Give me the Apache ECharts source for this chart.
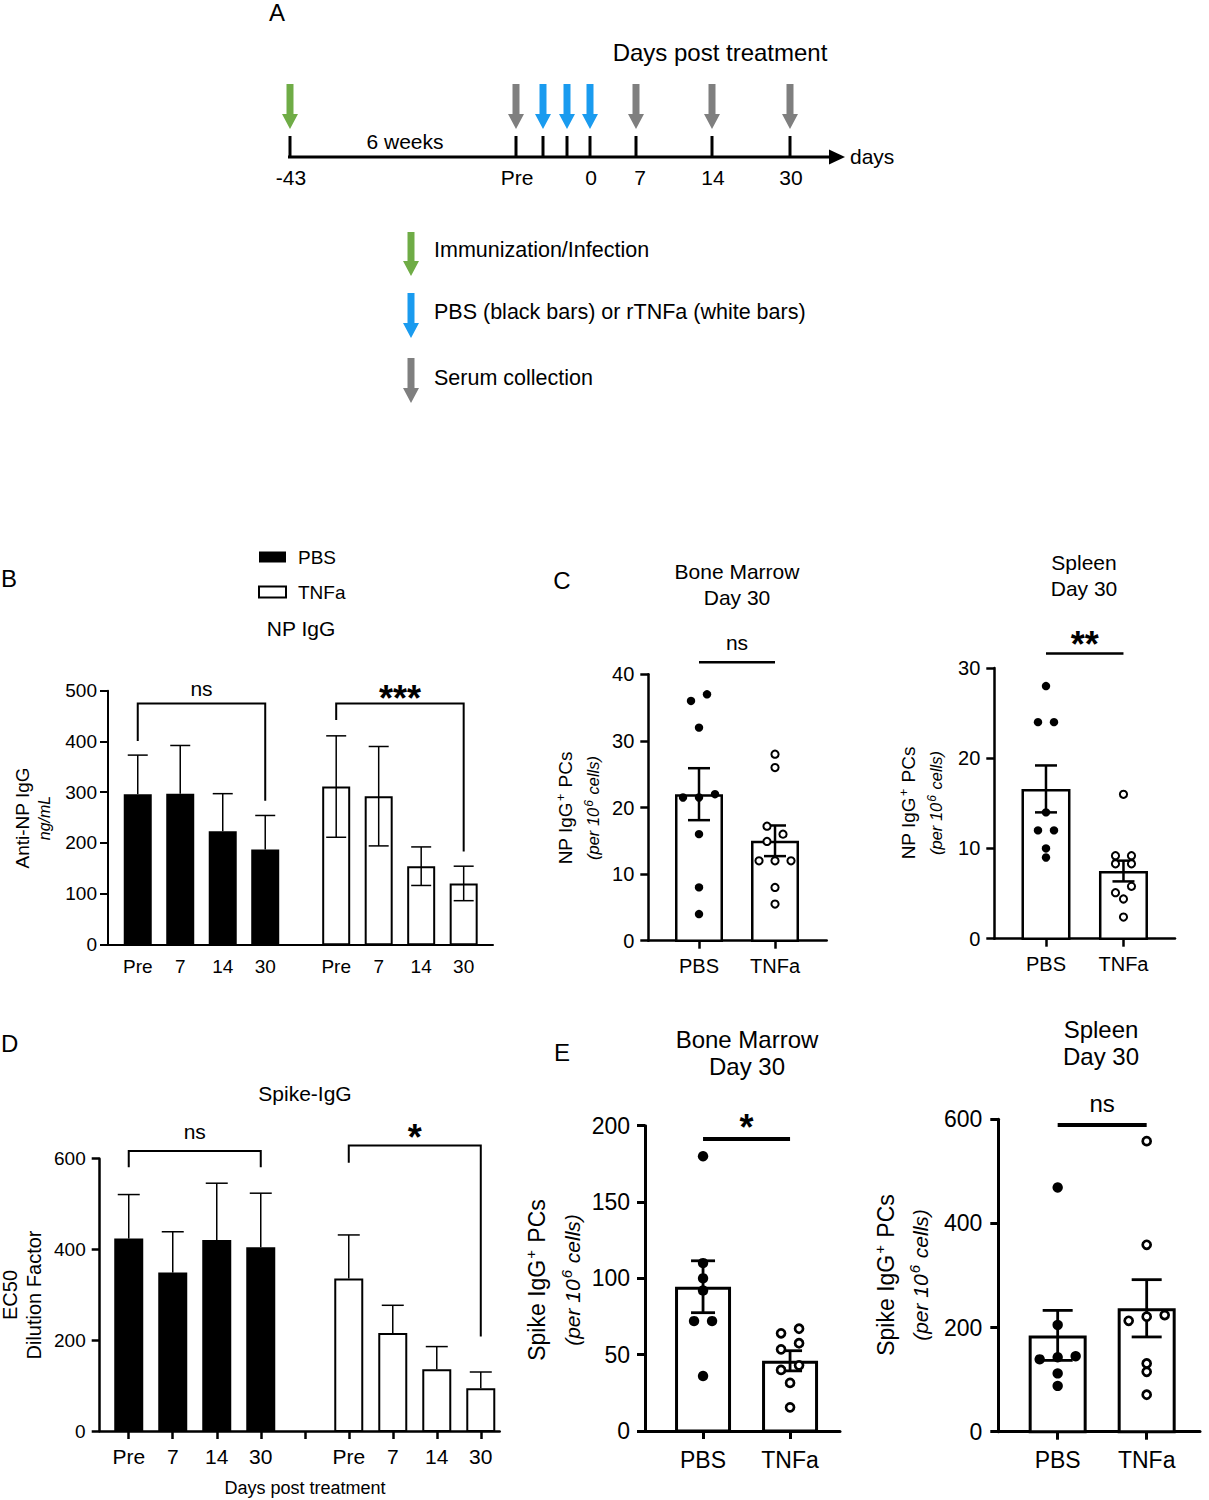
<!DOCTYPE html>
<html><head><meta charset="utf-8">
<script src="https://cdn.jsdelivr.net/npm/echarts@6/dist/echarts.min.js"></script>
<style>html,body{margin:0;padding:0;background:#fff}#c{width:1209px;height:1500px}</style>
</head><body><div id="c"></div><script>
const FONT = '"Liberation Sans", Arial, Helvetica, sans-serif';

// ---------------- DATA ----------------
// Panel A (schematic)
const timelineLabels = ['-43', 'Pre', '', '', '0', '7', '14', '30'];
const timelineArrowKinds = ['immun', 'serum', 'treat', 'treat', 'treat', 'serum', 'serum', 'serum'];
const arrowLegendKinds = ['immun', 'treat', 'serum'];
const arrowLegendTexts = ['Immunization/Infection', 'PBS (black bars) or rTNFa (white bars)', 'Serum collection'];

// Panel B: NP IgG (ng/mL), mean and SEM
const bDays = ['Pre', '7', '14', '30'];
const bPbsMean = [296, 297, 223, 187];
const bPbsSem = [77, 95, 74, 67];
const bTnfMean = [311, 292, 154, 120];
const bTnfSem = [100, 98, 38, 34];
const bSig = ['ns', '***'];

// Panel C: NP IgG+ PCs per 10^6 cells
const groups = ['PBS', 'TNFa'];
const cBmPbs = [36, 37, 32, 21.5, 22, 21.5, 16, 8, 4];
const cBmTnf = [28, 26, 17.2, 16, 14.9, 12, 12, 12, 8, 5.5];
const cBmMean = [22.0, 15.0];
const cBmSem = [3.9, 2.3];
const cSpPbs = [28, 24, 24, 14, 12, 12, 10, 9];
const cSpTnf = [16, 9.2, 9.2, 8.3, 8.3, 5.8, 5.1, 4.4, 2.4];
const cSpMean = [16.6, 7.5];
const cSpSem = [2.6, 1.15];
const cSig = ['ns', '**'];

// Panel D: Spike IgG EC50 dilution factor
const dPbsMean = [424, 349, 421, 405];
const dPbsSem = [97, 90, 125, 119];
const dTnfMean = [336, 216, 136, 94];
const dTnfSem = [96, 61, 50, 36];
const dSig = ['ns', '*'];

// Panel E: Spike IgG+ PCs per 10^6 cells
const eBmPbs = [180, 110, 100, 92, 72, 72, 36];
const eBmTnf = [67, 64, 57.5, 53.5, 43, 40, 31.5, 15.5];
const eBmMean = [94.5, 46];
const eBmSem = [17, 6.6];
const eSpPbs = [469, 205, 145, 143, 139, 112, 88];
const eSpTnf = [558, 359, 224, 221, 213, 131, 115, 71];
const eSpMean = [185, 237];
const eSpSem = [48, 55];
const eSig = ['*', 'ns'];

// ---------------- HELPERS ----------------
const grids = [], xAxes = [], yAxes = [], series = [], graphics = [];

function lookup(pos, labels, v) {
  for (let k = 0; k < pos.length; k++) if (Math.abs(pos[k] - v) < 1e-3) return labels[k];
  return '';
}

function addPanel(cfg) {
  const i = grids.length;
  grids.push({ left: cfg.left, top: cfg.top, width: cfg.width, height: cfg.height, containLabel: false, outerBoundsMode: 'none' });
  xAxes.push({
    gridIndex: i, type: 'value', min: 0, max: cfg.xMax, splitLine: { show: false },
    axisLine: { show: true, onZero: false, lineStyle: { color: '#000', width: cfg.lw } },
    axisTick: { show: !!cfg.xTicks, customValues: cfg.xTicks || [], length: 8, lineStyle: { color: '#000', width: cfg.lw } },
    axisLabel: { customValues: cfg.xLabelPos, formatter: v => lookup(cfg.xLabelPos, cfg.xLabels, v),
      fontSize: cfg.xFont, fontFamily: FONT, color: '#000', margin: cfg.xMargin }
  });
  yAxes.push({
    gridIndex: i, type: 'value', min: 0, max: cfg.yMax, interval: cfg.yStep, splitLine: { show: false },
    axisLine: { show: true, onZero: false, lineStyle: { color: '#000', width: cfg.lw } },
    axisTick: { show: true, length: 8, lineStyle: { color: '#000', width: cfg.lw } },
    axisLabel: { fontSize: cfg.yFont, fontFamily: FONT, color: '#000', margin: cfg.yMargin, showMinLabel: true, showMaxLabel: true }
  });
  return i;
}

function bars(name, gi, pos, vals, w, fill, lw) {
  series.push({
    type: 'custom', name, xAxisIndex: gi, yAxisIndex: gi, z: 2,
    itemStyle: { color: fill, borderColor: '#000' },
    data: pos.map((p, k) => [p, vals[k]]),
    renderItem: (params, api) => {
      const t = api.coord([api.value(0), api.value(1)]);
      const b = api.coord([api.value(0), 0]);
      const h = lw ? lw / 2 : 0;
      return { type: 'rect', shape: { x: t[0] - w / 2 + h, y: t[1] + h, width: w - 2 * h, height: Math.max(0, b[1] - t[1] - h) },
        style: lw ? { fill, stroke: '#000', lineWidth: lw } : { fill } };
    }
  });
}

function errs(name, gi, pos, mean, sem, capW, lw, both) {
  series.push({
    type: 'custom', name, xAxisIndex: gi, yAxisIndex: gi, z: 3,
    data: pos.map((p, k) => [p, mean[k], sem[k]]),
    renderItem: (params, api) => {
      const x = api.value(0), m = api.value(1), s = api.value(2);
      const hi = api.coord([x, m + s]);
      const lo = api.coord([x, both ? m - s : m]);
      const st = { stroke: '#000', lineWidth: lw };
      const ch = [
        { type: 'line', shape: { x1: hi[0], y1: hi[1], x2: lo[0], y2: lo[1] }, style: st },
        { type: 'line', shape: { x1: hi[0] - capW / 2, y1: hi[1], x2: hi[0] + capW / 2, y2: hi[1] }, style: st }
      ];
      if (both) ch.push({ type: 'line', shape: { x1: lo[0] - capW / 2, y1: lo[1], x2: lo[0] + capW / 2, y2: lo[1] }, style: st });
      return { type: 'group', children: ch };
    }
  });
}

// horizontal spreading of points that would overlap (pixel based)
function jitter(vals, ppu, step, rowTol, chainTol) {
  const idx = vals.map((v, i) => i).sort((a, b) => vals[b] - vals[a]);
  const rows = [];
  idx.forEach(i => {
    const r = rows[rows.length - 1];
    if (r && (vals[r[0]] - vals[i]) * ppu < rowTol) r.push(i); else rows.push([i]);
  });
  const off = new Array(vals.length).fill(0);
  rows.forEach(r => {
    r.slice().sort((a, b) => vals[a] - vals[b]).forEach((i, k) => { off[i] = (k - (r.length - 1) / 2) * step; });
  });
  let k = 0;
  while (k < rows.length) {
    if (rows[k].length !== 1) { k++; continue; }
    let j = k;
    while (j + 1 < rows.length && rows[j + 1].length === 1 && (vals[rows[j][0]] - vals[rows[j + 1][0]]) * ppu < chainTol) j++;
    if (j > k) for (let m = k; m <= j; m++) off[rows[m][0]] = ((m - k) % 2 === 0 ? -1 : 1) * step / 2;
    k = j + 1;
  }
  return off;
}

function dots(name, gi, x, vals, cfg, filled) {
  const ppu = cfg.height / cfg.yMax;
  const off = jitter(vals, ppu, cfg.step, cfg.rowTol, cfg.chainTol);
  series.push({
    type: 'custom', name, xAxisIndex: gi, yAxisIndex: gi, z: 4,
    data: vals.map((v, k) => [x, v, off[k]]),
    renderItem: (params, api) => {
      const c = api.coord([api.value(0), api.value(1)]);
      return { type: 'circle', shape: { cx: c[0] + api.value(2), cy: c[1], r: filled ? cfg.rFill : cfg.rOpen },
        style: filled ? { fill: '#000' } : { fill: '#fff', stroke: '#000', lineWidth: cfg.dotLw } };
    }
  });
}

// significance bracket / line: [x1, x2, top, leftEnd, rightEnd]
function sig(gi, x1, x2, top, l, r, label, lw, fs, dyText) {
  series.push({
    type: 'custom', name: 'sig', xAxisIndex: gi, yAxisIndex: gi, z: 5, silent: true,
    data: [[x1, x2, top, l, r]],
    renderItem: (params, api) => {
      const a = api.coord([api.value(0), api.value(3)]);
      const b = api.coord([api.value(0), api.value(2)]);
      const c = api.coord([api.value(1), api.value(2)]);
      const d = api.coord([api.value(1), api.value(4)]);
      const star = label.indexOf('*') >= 0;
      return { type: 'group', children: [
        { type: 'polyline', shape: { points: [a, b, c, d] }, style: { stroke: '#000', lineWidth: lw, fill: null } },
        { type: 'text', x: (b[0] + c[0]) / 2, y: b[1] - dyText,
          style: { text: label, fontSize: fs, fontFamily: FONT, fontWeight: star ? 'bold' : 'normal', fill: '#000',
            align: 'center', verticalAlign: 'middle', textAlign: 'center', textVerticalAlign: 'middle' } }
      ] };
    }
  });
}

function txt(t, x, y, fs, opts) {
  opts = opts || {};
  graphics.push({ type: 'text', x, y, rotation: opts.rot || 0, silent: true,
    style: { text: t, fontSize: fs, fontFamily: FONT, fontStyle: opts.italic ? 'italic' : 'normal', fontWeight: opts.bold ? 'bold' : 'normal',
      fill: '#000', align: opts.align || 'center', verticalAlign: 'middle', textAlign: opts.align || 'center', textVerticalAlign: 'middle' } });
}

// rotated axis title with a superscript part: parts = [before, sup, after]
function supTxt(parts, x, y, fs, supFs, italic) {
  const fst = italic ? 'italic' : 'normal';
  graphics.push({ type: 'text', x, y, rotation: Math.PI / 2, silent: true,
    style: { text: '{n|' + parts[0] + '}{s|' + parts[1] + '}{n|' + parts[2] + '}',
      align: 'center', verticalAlign: 'middle', textAlign: 'center', textVerticalAlign: 'middle', fill: '#000',
      rich: {
        n: { fontSize: fs, fontFamily: FONT, fontStyle: fst, fill: '#000', color: '#000', lineHeight: fs * 1.2, verticalAlign: 'middle' },
        s: { fontSize: supFs, fontFamily: FONT, fontStyle: fst, fill: '#000', color: '#000', lineHeight: fs * 1.2, verticalAlign: 'top', padding: [0, 1, 0, 1] }
      } } });
}

// ---------------- PANEL A (schematic) ----------------
const COLORS = { immun: '#6FAC46', treat: '#1A9BEF', serum: '#7F7F7F' };
function arrow(x, y0, y1, color) {
  graphics.push({ type: 'rect', silent: true, shape: { x: x - 3.5, y: y0, width: 7, height: (y1 - y0) - 13 }, style: { fill: color } });
  graphics.push({ type: 'polygon', silent: true, shape: { points: [[x - 8, y1 - 15], [x + 8, y1 - 15], [x, y1]] }, style: { fill: color } });
}
const tlX = [290, 516, 543, 567, 590, 636, 712, 790];
const tlY = 157;
graphics.push({ type: 'line', silent: true, shape: { x1: 288, y1: tlY, x2: 832, y2: tlY }, style: { stroke: '#000', lineWidth: 3 } });
graphics.push({ type: 'polygon', silent: true, shape: { points: [[829, tlY - 7.5], [845, tlY], [829, tlY + 7.5]] }, style: { fill: '#000' } });
tlX.forEach((x, k) => {
  graphics.push({ type: 'line', silent: true, shape: { x1: x, y1: 136, x2: x, y2: tlY }, style: { stroke: '#000', lineWidth: 3 } });
  arrow(x, 84, 129, COLORS[timelineArrowKinds[k]]);
  if (timelineLabels[k]) txt(timelineLabels[k], x + (timelineLabels[k] === '7' ? 4 : 1), 177, 21);
});
txt('6 weeks', 405, 141, 21);
txt('days', 850, 156, 21, { align: 'left' });
txt('A', 277, 12, 24);
txt('Days post treatment', 720, 52, 24);
const legArrowY = [[232, 276], [293, 338], [358, 403]];
arrowLegendKinds.forEach((kind, k) => {
  arrow(411, legArrowY[k][0], legArrowY[k][1], COLORS[kind]);
  txt(arrowLegendTexts[k], 434, [250, 312, 378][k], 21.5, { align: 'left' });
});

// ---------------- PANEL B ----------------
const cfgB = { left: 108, top: 690.7, width: 385, height: 253.6, xMax: 9.06, yMax: 500, yStep: 100, lw: 2,
  xFont: 19, yFont: 19, xMargin: 13, yMargin: 11 };
const bPbsPos = bDays.map((d, i) => 0.7 + i);
const bTnfPos = bDays.map((d, i) => 5.37 + i);
cfgB.xLabelPos = bPbsPos.concat(bTnfPos);
cfgB.xLabels = bDays.concat(bDays);
const gB = addPanel(cfgB);
bars('PBS', gB, bPbsPos, bPbsMean, 28, '#000', 0);
bars('TNFa', gB, bTnfPos, bTnfMean, 28, '#fff', 2);
errs('PBS', gB, bPbsPos, bPbsMean, bPbsSem, 20, 1.5, false);
errs('TNFa', gB, bTnfPos, bTnfMean, bTnfSem, 20, 1.5, true);
sig(gB, bPbsPos[0], bPbsPos[3], 475, 401, 283, bSig[0], 2, 21, 15);
sig(gB, bTnfPos[0], bTnfPos[3], 475, 442, 183, bSig[1], 2, 36, 5);
txt('B', 1, 578, 24, { align: 'left' });
txt('NP IgG', 301, 628, 21);
txt('Anti-NP IgG', 22, 818, 19, { rot: Math.PI / 2 });
txt('ng/mL', 44, 818, 16, { rot: Math.PI / 2, italic: true });

// ---------------- PANEL C ----------------
const dotC = { step: 16, rowTol: 7, chainTol: 8.5, rFill: 4.2, rOpen: 3.6, dotLw: 2 };
const cPos = [0.667, 1.667];
const cfgCB = Object.assign({ left: 648.3, top: 674.3, width: 178.4, height: 266.4, xMax: 2.347, yMax: 40, yStep: 10, lw: 2.5,
  xFont: 20, yFont: 20, xMargin: 15, yMargin: 14, xTicks: cPos, xLabelPos: cPos, xLabels: groups }, dotC);
const gCB = addPanel(cfgCB);
bars('PBS', gCB, [cPos[0]], [cBmMean[0]], 48, '#fff', 2.5);
bars('TNFa', gCB, [cPos[1]], [cBmMean[1]], 48, '#fff', 2.5);
errs('PBS', gCB, cPos, cBmMean, cBmSem, 22, 2.5, true);
dots('PBS', gCB, cPos[0], cBmPbs, cfgCB, true);
dots('TNFa', gCB, cPos[1], cBmTnf, cfgCB, false);
sig(gCB, cPos[0], cPos[1], 41.8, 41.8, 41.8, cSig[0], 2.5, 21, 20);
txt('C', 562, 580, 24);
txt('Bone Marrow', 737, 571, 21);
txt('Day 30', 737, 597, 21);
supTxt(['NP IgG', '+', ' PCs'], 565, 808, 19, 13, false);
supTxt(['(per 10', '6', ' cells)'], 593, 808, 16.5, 12, true);

const cfgCS = Object.assign({ left: 994.3, top: 668, width: 180.7, height: 270.7, xMax: 2.332, yMax: 30, yStep: 10, lw: 2.5,
  xFont: 20, yFont: 20, xMargin: 15, yMargin: 14, xTicks: cPos, xLabelPos: cPos, xLabels: groups }, dotC);
const gCS = addPanel(cfgCS);
bars('PBS', gCS, [cPos[0]], [cSpMean[0]], 49, '#fff', 2.5);
bars('TNFa', gCS, [cPos[1]], [cSpMean[1]], 49, '#fff', 2.5);
errs('PBS', gCS, cPos, cSpMean, cSpSem, 22, 2.5, true);
dots('PBS', gCS, cPos[0], cSpPbs, cfgCS, true);
dots('TNFa', gCS, cPos[1], cSpTnf, cfgCS, false);
sig(gCS, cPos[0], cPos[1], 31.6, 31.6, 31.6, cSig[1], 2.5, 36, 9);
txt('Spleen', 1084, 562, 21);
txt('Day 30', 1084, 588, 21);
supTxt(['NP IgG', '+', ' PCs'], 908, 803, 19, 13, false);
supTxt(['(per 10', '6', ' cells)'], 936, 803, 16.5, 12, true);

// ---------------- PANEL D ----------------
const dSlots = [0, 1, 2, 3, 4, 5, 6, 7, 8].map(i => 0.66 + i);
const dPbsPos = [0, 1, 2, 3].map(i => dSlots[i]);
const dTnfPos = [5, 6, 7, 8].map(i => dSlots[i]);
const cfgD = { left: 99.7, top: 1158.7, width: 400, height: 272.3, xMax: 9.09, yMax: 600, yStep: 200, lw: 2.5,
  xFont: 21, yFont: 19, xMargin: 15, yMargin: 14, xTicks: dSlots, xLabelPos: dPbsPos.concat(dTnfPos), xLabels: bDays.concat(bDays) };
const gD = addPanel(cfgD);
bars('PBS', gD, dPbsPos, dPbsMean, 29, '#000', 0);
bars('TNFa', gD, dTnfPos, dTnfMean, 29, '#fff', 2);
errs('PBS', gD, dPbsPos, dPbsMean, dPbsSem, 22, 1.5, false);
errs('TNFa', gD, dTnfPos, dTnfMean, dTnfSem, 22, 1.5, false);
sig(gD, dPbsPos[0], dPbsPos[3], 617, 581, 581, dSig[0], 2, 21, 19);
sig(gD, dTnfPos[0], dTnfPos[3], 629, 591, 208, dSig[1], 2, 36, 8);
txt('D', 1, 1043, 24, { align: 'left' });
txt('Spike-IgG', 305, 1093, 21);
txt('Days post treatment', 305, 1488, 18);
txt('EC50', 10, 1295, 20, { rot: Math.PI / 2 });
txt('Dilution Factor', 34, 1295, 20, { rot: Math.PI / 2 });

// ---------------- PANEL E ----------------
const dotE = { step: 18, rowTol: 7, chainTol: 8, rFill: 5.2, rOpen: 4, dotLw: 2.7 };
const ePos = [0.667, 1.667];
const cfgEB = Object.assign({ left: 645, top: 1125.7, width: 195, height: 305.3, xMax: 2.241, yMax: 200, yStep: 50, lw: 3,
  xFont: 23, yFont: 23, xMargin: 17, yMargin: 15, xTicks: ePos, xLabelPos: ePos, xLabels: groups }, dotE);
const gEB = addPanel(cfgEB);
bars('PBS', gEB, [ePos[0]], [eBmMean[0]], 56, '#fff', 3);
bars('TNFa', gEB, [ePos[1]], [eBmMean[1]], 56, '#fff', 3);
errs('PBS', gEB, ePos, eBmMean, eBmSem, 24, 2.8, true);
dots('PBS', gEB, ePos[0], eBmPbs, cfgEB, true);
dots('TNFa', gEB, ePos[1], eBmTnf, cfgEB, false);
sig(gEB, ePos[0], ePos[1], 191.3, 191.3, 191.3, eSig[0], 4, 36, 11);
txt('E', 562, 1052, 24);
txt('Bone Marrow', 747, 1039, 24);
txt('Day 30', 747, 1066, 24);
supTxt(['Spike IgG', '+', ' PCs'], 537, 1280, 23, 15, false);
supTxt(['(per 10', '6', ' cells)'], 572, 1280, 21, 15, true);

const cfgES = Object.assign({ left: 998.3, top: 1119.3, width: 201.7, height: 312.4, xMax: 2.266, yMax: 600, yStep: 200, lw: 3,
  xFont: 23, yFont: 23, xMargin: 17, yMargin: 16, xTicks: ePos, xLabelPos: ePos, xLabels: groups }, dotE);
const gES = addPanel(cfgES);
bars('PBS', gES, [ePos[0]], [eSpMean[0]], 58, '#fff', 3);
bars('TNFa', gES, [ePos[1]], [eSpMean[1]], 58, '#fff', 3);
errs('PBS', gES, ePos, eSpMean, eSpSem, 30, 2.8, true);
dots('PBS', gES, ePos[0], eSpPbs, cfgES, true);
dots('TNFa', gES, ePos[1], eSpTnf, cfgES, false);
sig(gES, ePos[0], ePos[1], 589, 589, 589, eSig[1], 4, 24, 22);
txt('Spleen', 1101, 1029, 24);
txt('Day 30', 1101, 1056, 24);
supTxt(['Spike IgG', '+', ' PCs'], 886, 1275, 23, 15, false);
supTxt(['(per 10', '6', ' cells)'], 920, 1275, 21, 15, true);

// ---------------- CHART ----------------
const chart = echarts.init(document.getElementById('c'), null, { renderer: 'svg' });
chart.setOption({
  animation: false,
  backgroundColor: '#fff',
  textStyle: { fontFamily: FONT },
  legend: {
    orient: 'vertical', left: 258, top: 546, padding: 0, itemWidth: 27, itemHeight: 11, itemGap: 13, icon: 'rect', selectedMode: false,
    textStyle: { fontSize: 19, fontFamily: FONT, color: '#000', padding: [0, 0, 0, 7], lineHeight: 22 },
    data: [
      { name: 'PBS', itemStyle: { color: '#000', borderWidth: 0 } },
      { name: 'TNFa', itemStyle: { color: '#fff', borderColor: '#000', borderWidth: 2 } }
    ]
  },
  grid: grids, xAxis: xAxes, yAxis: yAxes, series, graphic: { elements: graphics }
});
</script></body></html>
